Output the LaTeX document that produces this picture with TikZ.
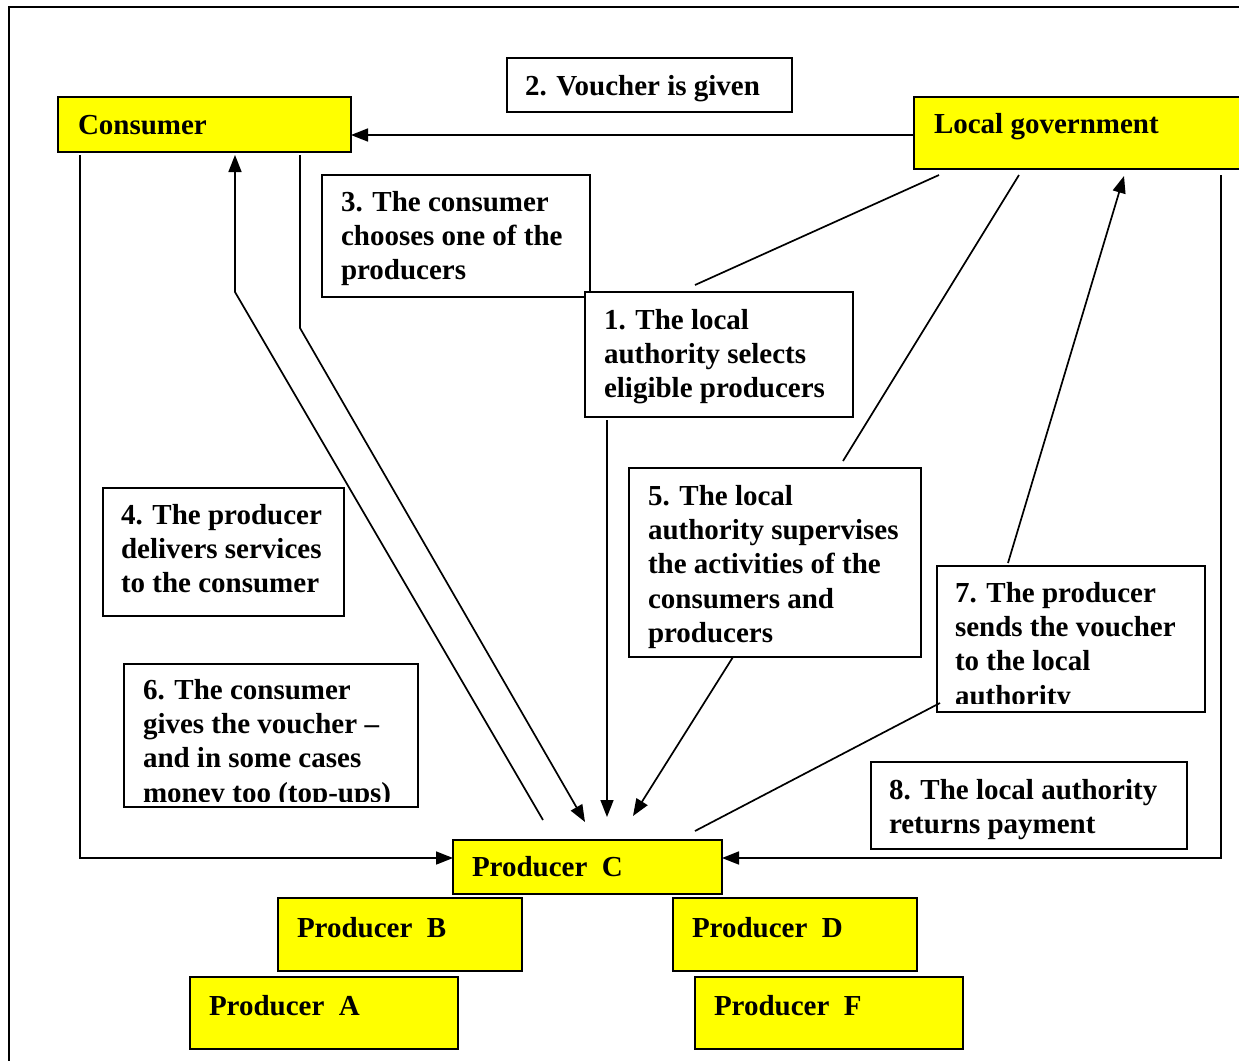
\documentclass[tikz,border=0pt]{standalone}
\usepackage{fontspec}
\setmainfont{Liberation Serif}
\usetikzlibrary{arrows.meta,fit}
\definecolor{yfill}{RGB}{255,255,0}
\begin{document}
\begin{tikzpicture}[x=0.5pt,y=-0.5pt,
  frame/.style={line width=1pt},
  boxb/.style={draw, line width=1pt, fill=white, inner sep=0pt, outer sep=0pt},
  yel/.style={boxb, fill=yfill},
  txt/.style={anchor=base west, inner sep=0pt, outer sep=0pt,
    font=\fontsize{14.5}{17.2}\selectfont\bfseries},
  conn/.style={line width=0.85pt},
  arr/.style={conn, -{Triangle[length=8.5pt,width=6.5pt]}}
]
\useasboundingbox (0,0) rectangle (1239,1061);
\draw[frame] (9,1070) -- (9,7) -- (1250,7);

% boxes
\node[yel, fit={(58,97) (351,152)}] (cons) {};
\node[boxb, fit={(507,58) (792,112)}] (b2) {};
\node[yel, fit={(914,97) (1260,169)}] (lg) {};
\node[boxb, fit={(322,175) (590,297)}] (b3) {};
\node[boxb, fit={(585,292) (853,417)}] (b1) {};
\node[boxb, fit={(629,468) (921,657)}] (b5) {};
\node[boxb, fit={(103,488) (344,616)}] (b4) {};
\node[boxb, fit={(937,566) (1205,712)}] (b7) {};
\node[boxb, fit={(124,664) (418,807)}] (b6) {};
\node[boxb, fit={(871,762) (1187,849)}] (b8) {};
\node[yel, fit={(453,840) (722,894)}] (pc) {};
\node[yel, fit={(278,898) (522,971)}] (pb) {};
\node[yel, fit={(673,898) (917,971)}] (pd) {};
\node[yel, fit={(190,977) (458,1049)}] (pa) {};
\node[yel, fit={(695,977) (963,1049)}] (pf) {};

% texts
\node[txt] (tcons) at (78,134) {Consumer};
\node[txt] (t2) at (525,95) {2. Voucher is given};
\node[txt] (tlg) at (934,133) {Local government};
\node[txt] (t3) at (341,211) {\begin{tabular}[t]{@{}l@{}}3. The consumer\\chooses one of the\\producers\end{tabular}};
\node[txt] (t1) at (604,329) {\begin{tabular}[t]{@{}l@{}}1. The local\\authority selects\\eligible producers\end{tabular}};
\node[txt] (t5) at (648,505) {\begin{tabular}[t]{@{}l@{}}5. The local\\authority supervises\\the activities of the\\consumers and\\producers\end{tabular}};
\node[txt] (t4) at (121,524) {\begin{tabular}[t]{@{}l@{}}4. The producer\\delivers services\\to the consumer\end{tabular}};
\begin{scope}
\clip (937,566) rectangle (1205,703);
\node[txt] (t7) at (955,602) {\begin{tabular}[t]{@{}l@{}}7. The producer\\sends the voucher\\to the local\\authority\end{tabular}};
\end{scope}
\begin{scope}
\clip (124,664) rectangle (418,801);
\node[txt] (t6) at (143,699) {\begin{tabular}[t]{@{}l@{}}6. The consumer\\gives the voucher --\\and in some cases\\money too (top-ups)\end{tabular}};
\end{scope}
\node[txt] (t8) at (889,799) {\begin{tabular}[t]{@{}l@{}}8. The local authority\\returns payment\end{tabular}};
\node[txt] (tpc) at (472,876) {Producer\ \ C};
\node[txt] (tpb) at (297,937) {Producer\ \ B};
\node[txt] (tpd) at (692,937) {Producer\ \ D};
\node[txt] (tpa) at (209,1015) {Producer\ \ A};
\node[txt] (tpf) at (714,1015) {Producer\ \ F};

% connector coordinates
\coordinate (g1) at (939,175);
\coordinate (e1) at (695,285);
\coordinate (g5) at (1019,175);
\coordinate (e5) at (843,461);
\coordinate (g7) at (1124,176);
\coordinate (s7) at (1008,563);
\coordinate (rtop) at (1221,175);
\coordinate (rbot) at (1221,858);
\coordinate (ltop) at (80,155);
\coordinate (lbot) at (80,858);
\coordinate (cup) at (235,155);
\coordinate (kink1) at (235,292);
\coordinate (p1) at (543,820);
\coordinate (cdn) at (300,155);
\coordinate (kink2) at (300,328);
\coordinate (p2) at (585,822);
\coordinate (s1) at (607,420);
\coordinate (p3) at (607,817);
\coordinate (s5) at (733,657);
\coordinate (p4) at (633,816);
\coordinate (s7b) at (940,703);
\coordinate (p5) at (695,831);

% connectors
\draw[arr] (lg.west |- 0,135) -- (cons.east |- 0,135);
\draw[conn] (g1) -- (e1);
\draw[conn] (g5) -- (e5);
\draw[arr] (s7) -- (g7);
\draw[arr] (rtop) -- (rbot) -- (pc.east |- rbot);
\draw[arr] (ltop) -- (lbot) -- (pc.west |- lbot);
\draw[arr] (p1) -- (kink1) -- (cup);
\draw[arr] (cdn) -- (kink2) -- (p2);
\draw[arr] (s1) -- (p3);
\draw[arr] (s5) -- (p4);
\draw[conn] (s7b) -- (p5);
\end{tikzpicture}
\end{document}
